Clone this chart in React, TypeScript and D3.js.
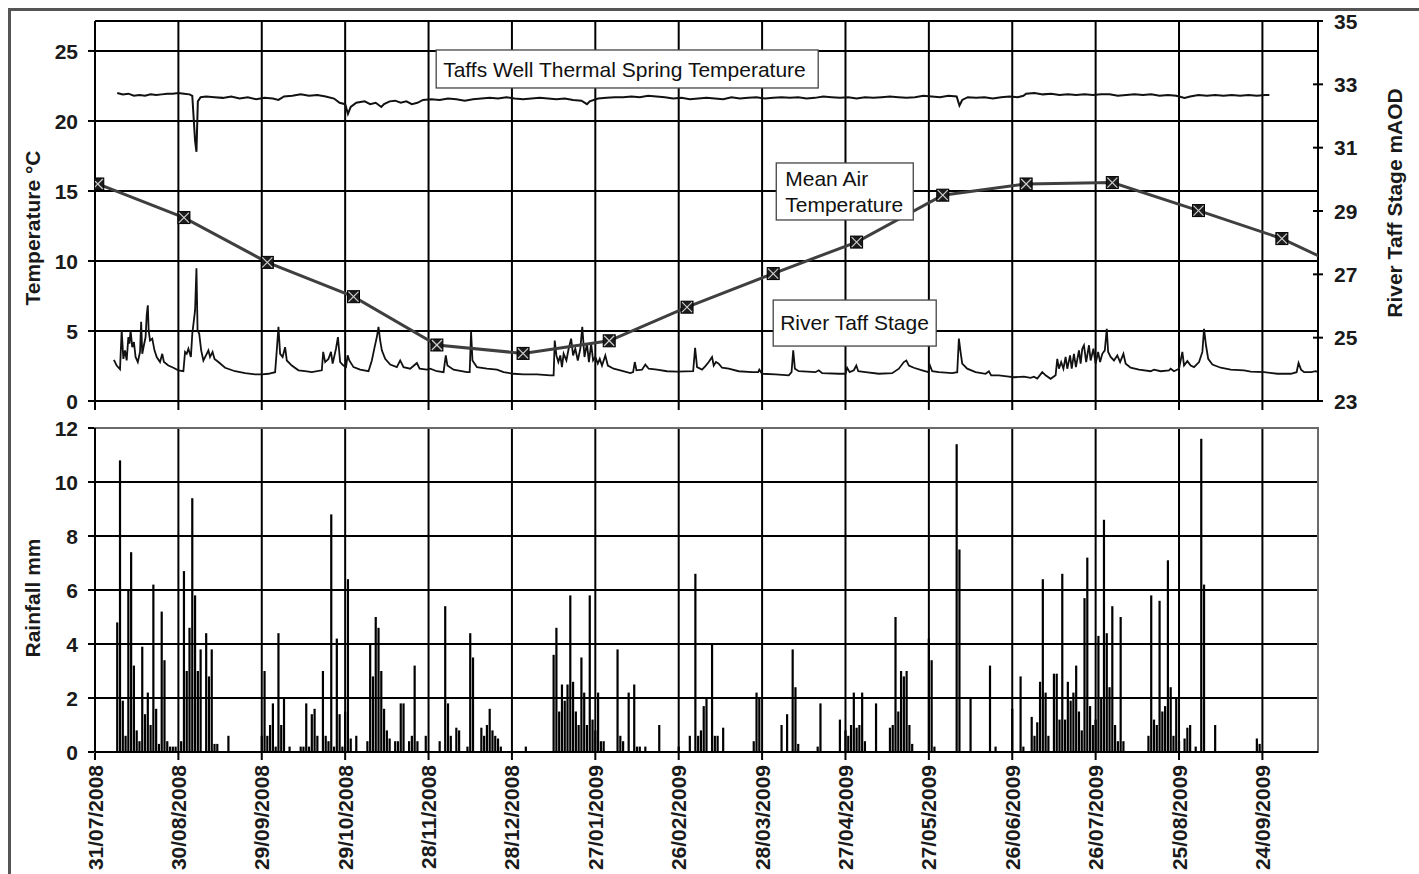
import React from "react";
import * as d3 from "d3";

// all series are keyed by day offset from 31/07/2008
const START = Date.UTC(2008, 6, 31);
const DAY_MS = 864e5;
const SPAN_DAYS = 440;

const dateTicks = [
  "31/07/2008", "30/08/2008", "29/09/2008", "29/10/2008", "28/11/2008",
  "28/12/2008", "27/01/2009", "26/02/2009", "28/03/2009", "27/04/2009",
  "27/05/2009", "26/06/2009", "26/07/2009", "25/08/2009", "24/09/2009",
];
const tempTicks = [0, 5, 10, 15, 20, 25];
const stageTicks = [23, 25, 27, 29, 31, 33, 35];
const rainTicks = [0, 2, 4, 6, 8, 10, 12];

// monthly mean air temperature (°C), 1st of each month
const airDays = [1, 32, 62, 93, 123, 154, 185, 213, 244, 274, 305, 335, 366, 397, 427, 458];
const airTemp = [15.5, 13.1, 9.9, 7.45, 4.0, 3.4, 4.3, 6.7, 9.1, 11.35, 14.7, 15.5, 15.6, 13.6, 11.6, 8.7];

// Taffs Well thermal spring temperature (°C)
const springTemp: [number, number][] = [
  [8, 22.0], [10, 21.9], [12, 21.95], [14, 21.8], [16, 21.85], [18, 21.8], [20, 21.9],
  [22, 21.85], [24, 21.9], [26, 21.95], [28, 21.95], [30, 22.0], [32, 21.95], [34, 21.9],
  [35, 21.8], [36, 18.6], [36.5, 17.8], [37, 21.4], [38, 21.7], [40, 21.75], [43, 21.7],
  [46, 21.65], [49, 21.75], [52, 21.6], [55, 21.7], [58, 21.55], [61, 21.65], [64, 21.6],
  [66, 21.5], [68, 21.75], [71, 21.8], [74, 21.9], [77, 21.8], [80, 21.85], [83, 21.75],
  [86, 21.6], [88, 21.3], [90, 21.2], [91, 20.5], [92, 21.0], [94, 21.3], [97, 21.4],
  [99, 21.2], [101, 21.3], [103, 21.0], [104, 21.2], [106, 21.4], [108, 21.45], [110, 21.3],
  [112, 21.4], [114, 21.2], [116, 21.3], [118, 21.5], [121, 21.55], [124, 21.5], [127, 21.6],
  [130, 21.55], [133, 21.45], [136, 21.55], [139, 21.6], [142, 21.65], [145, 21.6], [148, 21.7],
  [151, 21.6], [154, 21.55], [157, 21.6], [160, 21.65], [163, 21.6], [166, 21.55], [169, 21.6],
  [172, 21.5], [175, 21.45], [177, 21.2], [178, 21.4], [181, 21.6], [184, 21.65], [187, 21.7],
  [190, 21.7], [193, 21.75], [196, 21.7], [199, 21.8], [202, 21.75], [205, 21.7], [208, 21.6],
  [211, 21.65], [214, 21.55], [217, 21.6], [220, 21.65], [223, 21.6], [226, 21.55], [229, 21.7],
  [232, 21.6], [235, 21.65], [238, 21.7], [241, 21.6], [244, 21.65], [247, 21.7], [250, 21.65],
  [253, 21.7], [256, 21.6], [259, 21.65], [262, 21.75], [265, 21.7], [268, 21.65], [271, 21.7],
  [274, 21.6], [277, 21.7], [280, 21.65], [283, 21.7], [286, 21.75], [289, 21.7], [292, 21.65],
  [295, 21.7], [298, 21.8], [301, 21.75], [304, 21.7], [307, 21.8], [310, 21.75], [311, 21.1],
  [312, 21.5], [314, 21.7], [317, 21.65], [320, 21.7], [323, 21.6], [326, 21.7], [329, 21.75],
  [332, 21.7], [334, 21.8], [335, 21.95], [338, 22.0], [341, 21.9], [344, 21.95], [347, 21.85],
  [350, 21.9], [353, 21.85], [356, 21.9], [359, 21.85], [362, 21.9], [365, 21.9], [368, 21.8],
  [371, 21.85], [374, 21.9], [377, 21.85], [380, 21.9], [383, 21.8], [386, 21.85], [389, 21.8],
  [392, 21.65], [394, 21.75], [397, 21.85], [400, 21.8], [403, 21.85], [406, 21.8], [409, 21.85],
  [412, 21.8], [415, 21.85], [418, 21.8], [421, 21.85], [422.5, 21.85],
];

// River Taff stage (mAOD)
const riverStage: [number, number][] = [
  [6.8, 24.3], [7.8, 24.12], [9.0, 24.0], [9.6, 25.23], [10.2, 24.33], [10.8, 24.6], [11.4, 24.28],
  [12.0, 25.02], [12.4, 24.81], [12.8, 25.23], [13.4, 24.7], [14.0, 24.86], [14.6, 24.39],
  [15.4, 24.23], [16.2, 24.55], [16.6, 25.5], [17.0, 24.49], [17.6, 24.76], [18.2, 25.02],
  [18.6, 25.71], [19.0, 26.02], [19.3, 25.23], [19.8, 24.91], [20.6, 24.97], [21.4, 24.6],
  [22.2, 24.39], [23.4, 24.23], [24.2, 24.49], [24.8, 24.23], [26.4, 24.12], [28.2, 24.05],
  [30.0, 23.97], [31.8, 23.94], [32.4, 24.55], [33.0, 24.49], [33.6, 24.65], [34.5, 24.39],
  [35.0, 25.12], [36.0, 25.86], [36.5, 27.19], [36.9, 25.23], [37.5, 25.12], [38.2, 24.6],
  [39.0, 24.28], [40.2, 24.49], [40.8, 24.6], [41.4, 24.39], [42.3, 24.55], [43.0, 24.33],
  [44.4, 24.23], [46.8, 24.05], [50.4, 23.94], [54.0, 23.88], [57.6, 23.84], [60.0, 23.84],
  [62.4, 23.86], [64.8, 23.91], [65.4, 24.6], [66.0, 25.34], [66.6, 24.49], [67.5, 24.39],
  [68.4, 24.7], [69.0, 24.28], [70.8, 24.12], [73.2, 23.97], [75.6, 23.94], [78.0, 23.91],
  [81.6, 23.97], [82.1, 24.55], [82.8, 24.23], [84.0, 24.33], [84.9, 24.55], [85.5, 24.18],
  [86.7, 24.65], [87.4, 25.02], [88.2, 24.23], [89.4, 24.12], [90.3, 24.07], [90.9, 24.44],
  [91.5, 24.28], [93.0, 24.07], [95.4, 23.99], [98.4, 23.94], [99.6, 24.28], [100.6, 24.7],
  [101.4, 25.02], [102.0, 25.34], [102.6, 24.91], [103.2, 24.6], [104.4, 24.33], [106.2, 24.15],
  [108.6, 24.07], [109.8, 24.28], [111.0, 24.07], [113.4, 24.02], [115.8, 24.2], [116.8, 24.02],
  [119.4, 23.99], [120.6, 24.02], [123.0, 23.94], [125.4, 23.91], [126.2, 24.44], [126.8, 24.12],
  [129.0, 23.99], [133.8, 23.91], [134.8, 23.91], [135.3, 25.18], [135.8, 24.28], [137.4, 24.07],
  [141.0, 24.02], [144.6, 23.99], [147.0, 23.91], [150.6, 23.86], [154.2, 23.84], [159.0, 23.84],
  [163.8, 23.81], [165.0, 23.81], [165.4, 24.91], [166.0, 24.44], [166.7, 24.23], [167.4, 24.44],
  [168.0, 24.07], [168.6, 24.49], [169.6, 24.28], [170.4, 24.65], [171.3, 24.97], [172.0, 24.44],
  [172.8, 24.65], [173.7, 24.28], [174.6, 24.65], [175.3, 25.34], [176.1, 24.39], [177.0, 24.81],
  [177.7, 24.23], [178.5, 24.81], [179.2, 24.28], [180.0, 24.39], [180.9, 24.18], [181.6, 24.33],
  [182.4, 24.12], [183.6, 24.44], [184.5, 24.12], [186.6, 24.02], [189.0, 23.97], [192.6, 23.88],
  [193.6, 23.91], [194.2, 24.23], [194.8, 23.97], [196.8, 23.99], [198.0, 24.15], [199.2, 24.02],
  [202.2, 23.99], [205.8, 23.94], [209.4, 23.93], [215.2, 23.94], [215.9, 24.68], [216.6, 24.07],
  [218.4, 23.99], [219.6, 24.1], [220.8, 24.23], [222.0, 24.39], [222.6, 24.12], [223.4, 24.23],
  [224.4, 24.18], [225.6, 24.05], [228.0, 24.02], [231.6, 23.94], [236.4, 23.91], [238.6, 23.91],
  [239.0, 23.99], [240.0, 23.86], [244.8, 23.84], [249.6, 23.81], [250.6, 23.91], [251.2, 24.6],
  [251.8, 24.02], [253.2, 23.94], [259.2, 23.91], [260.4, 23.97], [261.6, 23.88], [267.6, 23.86],
  [270.0, 23.86], [270.6, 24.05], [271.5, 23.91], [273.0, 23.97], [273.9, 24.12], [274.6, 23.94],
  [277.2, 23.91], [282.0, 23.86], [286.8, 23.88], [289.2, 24.02], [291.0, 24.23], [291.9, 24.28],
  [292.8, 24.12], [294.6, 24.05], [297.6, 23.97], [299.8, 23.91], [300.4, 24.12], [301.2, 23.94],
  [303.6, 23.91], [308.4, 23.88], [310.2, 23.91], [310.8, 24.97], [311.4, 24.55], [312.0, 24.18],
  [313.8, 24.02], [316.8, 23.91], [320.4, 23.86], [321.6, 23.94], [322.4, 23.81], [325.2, 23.81],
  [328.8, 23.77], [330.6, 23.75], [334.2, 23.77], [336.6, 23.73], [337.8, 23.77], [339.0, 23.71],
  [340.8, 23.91], [342.0, 23.81], [343.8, 23.7], [345.6, 23.81], [346.2, 24.33], [346.8, 24.02],
  [347.6, 24.23], [348.4, 24.02], [349.2, 24.39], [349.8, 24.02], [350.8, 24.44], [351.4, 24.02],
  [352.2, 24.49], [352.9, 24.07], [354.0, 24.6], [354.6, 24.18], [355.2, 24.65], [355.8, 24.76],
  [356.6, 24.23], [357.6, 24.76], [358.2, 24.28], [359.2, 24.65], [360.0, 24.18], [360.9, 24.55],
  [361.6, 24.23], [362.4, 24.49], [363.3, 24.6], [364.0, 25.28], [364.5, 24.55], [365.4, 24.39],
  [366.6, 24.28], [367.8, 24.44], [368.8, 24.23], [370.0, 24.49], [370.8, 24.18], [372.6, 24.05],
  [375.6, 23.99], [379.8, 23.94], [381.0, 23.99], [383.4, 23.94], [386.4, 23.97], [387.0, 24.02],
  [388.2, 23.94], [390.0, 24.02], [391.2, 24.55], [391.8, 24.12], [393.0, 24.26], [394.2, 24.12],
  [395.4, 24.07], [397.2, 24.23], [398.4, 24.55], [399.0, 25.28], [399.7, 24.76], [400.5, 24.33],
  [402.0, 24.15], [405.0, 24.05], [408.6, 23.99], [413.4, 23.97], [415.8, 23.93], [420.6, 23.91],
  [425.4, 23.86], [430.2, 23.86], [432.3, 23.91], [433.0, 24.2], [433.9, 23.99], [435.0, 23.91],
  [437.5, 23.91], [439.2, 23.94], [440.0, 23.91],
];

// daily rainfall (mm), rain days only
const rainfall: [number, number][] = [
  [8, 4.8], [9, 10.8], [10, 1.9], [11, 0.6], [12, 6.0], [13, 7.4], [14, 3.2], [15, 0.8], [16, 0.4],
  [17, 3.9], [18, 1.4], [19, 2.2], [20, 1.0], [21, 6.2], [22, 1.6], [23, 0.3], [24, 5.2], [25, 3.4],
  [26, 0.4], [27, 0.2], [28, 0.2], [29, 0.2], [31, 0.4], [32, 6.7], [33, 3.0], [34, 4.6], [35, 9.4],
  [36, 5.8], [37, 3.0], [38, 3.8], [40, 4.4], [41, 2.8], [42, 3.8], [43, 0.3], [44, 0.3], [48, 0.6],
  [60, 0.6], [61, 3.0], [62, 0.6], [63, 1.0], [64, 1.8], [65, 0.2], [66, 4.4], [67, 1.0], [68, 2.0],
  [70, 0.2], [74, 0.2], [75, 0.2], [76, 1.8], [77, 0.2], [78, 1.4], [79, 1.6], [80, 0.6], [82, 3.0],
  [83, 0.6], [84, 0.4], [85, 8.8], [86, 0.2], [87, 4.2], [88, 1.4], [89, 0.2], [90, 1.5], [91, 6.4],
  [92, 0.5], [94, 0.6], [98, 0.4], [99, 4.0], [100, 2.8], [101, 5.0], [102, 4.6], [103, 3.0],
  [104, 1.6], [105, 0.8], [106, 0.5], [108, 0.4], [109, 0.4], [110, 1.8], [111, 1.8], [113, 0.4],
  [114, 0.6], [115, 3.2], [116, 0.4], [119, 0.6], [124, 0.4], [126, 5.4], [127, 1.8], [128, 0.6],
  [130, 0.9], [131, 0.8], [134, 0.2], [135, 4.4], [136, 3.5], [139, 0.9], [140, 0.6], [141, 1.0],
  [142, 1.6], [143, 0.8], [144, 0.6], [145, 0.5], [146, 0.2], [155, 0.2], [165, 3.6], [166, 4.6],
  [167, 1.5], [168, 2.5], [169, 1.9], [170, 2.5], [171, 5.8], [172, 2.6], [173, 1.5], [174, 1.0],
  [175, 3.5], [176, 2.2], [177, 1.0], [178, 5.8], [179, 1.2], [180, 0.8], [181, 2.2], [182, 0.4],
  [183, 0.4], [188, 3.8], [189, 0.6], [190, 0.4], [192, 2.2], [194, 2.5], [195, 0.2], [196, 0.2],
  [198, 0.2], [203, 1.0], [210, 0.2], [214, 0.6], [216, 6.6], [217, 0.6], [218, 0.8], [219, 1.7],
  [220, 2.0], [222, 4.0], [223, 0.6], [224, 0.6], [226, 0.9], [237, 0.4], [238, 2.2], [239, 2.0],
  [247, 1.0], [249, 1.4], [251, 3.8], [252, 2.4], [253, 0.3], [260, 0.2], [261, 1.8], [268, 1.2],
  [270, 0.8], [271, 0.6], [272, 1.0], [273, 2.2], [274, 0.9], [275, 1.0], [276, 2.2], [277, 0.4],
  [281, 1.8], [286, 0.9], [287, 1.0], [288, 5.0], [289, 1.5], [290, 3.0], [291, 2.8], [292, 3.0],
  [293, 1.0], [294, 0.3], [300, 4.2], [301, 3.4], [302, 0.2], [310, 11.4], [311, 7.5], [315, 2.0],
  [322, 3.2], [324, 0.2], [330, 1.6], [333, 2.8], [334, 0.2], [337, 1.3], [338, 0.6], [339, 1.1],
  [340, 2.6], [341, 6.4], [342, 2.2], [343, 0.6], [345, 2.9], [346, 2.9], [347, 1.2], [348, 6.6],
  [349, 1.2], [350, 2.6], [351, 1.9], [352, 2.2], [353, 3.2], [354, 1.5], [355, 0.8], [356, 5.7],
  [357, 7.2], [358, 1.7], [359, 1.0], [360, 1.2], [361, 4.3], [362, 2.0], [363, 8.6], [364, 4.4],
  [365, 2.4], [366, 5.4], [367, 1.0], [368, 0.4], [369, 5.0], [370, 0.4], [379, 0.6], [380, 5.8],
  [381, 1.2], [382, 1.0], [383, 5.6], [384, 1.5], [385, 1.7], [386, 7.1], [387, 2.4], [388, 0.6],
  [389, 2.0], [390, 0.4], [392, 0.5], [393, 0.9], [394, 1.0], [396, 0.2], [398, 11.6], [399, 6.2],
  [403, 1.0], [418, 0.5], [419, 0.3],
];

const FONT = "'Liberation Sans', Arial, Helvetica, sans-serif";

export default function App() {
  const W = 1419;
  const H = 874;
  const left = 95;
  const right = 1318;
  const top1 = 21;
  const bot1 = 401;
  const top2 = 428;
  const bot2 = 752;

  const day = (d: number) => new Date(START + d * DAY_MS);
  const parse = d3.utcParse("%d/%m/%Y");

  const x = d3
    .scaleUtc()
    .domain([day(0), day(SPAN_DAYS)])
    .range([left, right]);
  const yTemp = d3.scaleLinear().domain([0, 27.14]).range([bot1, top1]);
  const yStage = d3.scaleLinear().domain([23, 35]).range([bot1, top1]);
  const yRain = d3.scaleLinear().domain([0, 12]).range([bot2, top2]);

  const tickDates = dateTicks.map((s) => parse(s) as Date);

  const springLine = d3
    .line<[number, number]>()
    .x((d) => x(day(d[0])))
    .y((d) => yTemp(d[1]));
  const stageLine = d3
    .line<[number, number]>()
    .x((d) => x(day(d[0])))
    .y((d) => yStage(d[1]));
  const airPts = airDays.map((d, i) => [d, airTemp[i]] as [number, number]);
  const airLine = d3
    .line<[number, number]>()
    .x((d) => x(day(d[0])))
    .y((d) => yTemp(d[1]));

  const barW = 2.2;
  const grid = { stroke: "#000", strokeWidth: 2 };
  const tickText = { fontFamily: FONT, fontSize: 21, fontWeight: 700, fill: "#1a1a1a" };
  const noteText = { fontFamily: FONT, fontSize: 21, fill: "#111" };

  // annotation boxes, anchored in (day, °C)
  const notes = [
    { d: 122.75, t: 25.07, w: 382, h: 38, lines: ["Taffs Well Thermal Spring Temperature"], dx: 7, dy: [27] },
    { d: 245.1, t: 17.0, w: 137, h: 57, lines: ["Mean Air", "Temperature"], dx: 9, dy: [23, 49] },
    { d: 244.0, t: 7.21, w: 163, h: 46, lines: ["River Taff Stage"], dx: 7, dy: [30] },
  ];

  const title = { fontFamily: FONT, fontSize: 21, fontWeight: 700, fill: "#1a1a1a" };

  return (
    <svg
      width={W}
      height={H}
      style={{ position: "absolute", left: 0, top: 0, background: "#fff" }}
    >
      <defs>
        <clipPath id="topClip">
          <rect x={left} y={top1} width={right - left} height={bot1 - top1} />
        </clipPath>
      </defs>

      {/* outer frame */}
      <rect x={9.5} y={9.5} width={1440} height={900} fill="none" stroke="#555" strokeWidth={3} />

      {/* ---------- upper panel ---------- */}
      {tempTicks.map((t) => (
        <g key={"tg" + t}>
          <line x1={left} x2={right} y1={yTemp(t)} y2={yTemp(t)} {...grid} />
          <line x1={left - 7} x2={left} y1={yTemp(t)} y2={yTemp(t)} {...grid} />
          <text x={78} y={yTemp(t)} dy="0.36em" textAnchor="end" {...tickText}>
            {t}
          </text>
        </g>
      ))}
      <line x1={left} x2={right} y1={top1} y2={top1} {...grid} />
      {tickDates.map((d, i) => (
        <line key={"vg1" + i} x1={x(d)} x2={x(d)} y1={top1} y2={bot1 + 9} {...grid} />
      ))}
      {/* right axis */}
      <line x1={right} x2={right} y1={top1} y2={bot1} {...grid} />
      {stageTicks.map((s) => (
        <g key={"st" + s}>
          <line x1={right - 5} x2={right + 5} y1={yStage(s)} y2={yStage(s)} {...grid} />
          <text x={1334} y={yStage(s)} dy="0.36em" textAnchor="start" {...tickText}>
            {s}
          </text>
        </g>
      ))}

      <g clipPath="url(#topClip)">
        <path d={springLine(springTemp) || ""} fill="none" stroke="#111" strokeWidth={2} />
        <path d={stageLine(riverStage) || ""} fill="none" stroke="#111" strokeWidth={1.8} />
        <path d={airLine(airPts) || ""} fill="none" stroke="#3f3f3f" strokeWidth={3} />
        {airPts.map((p, i) => {
          const cx = x(day(p[0]));
          const cy = yTemp(p[1]);
          const s = 6;
          return (
            <g key={"m" + i}>
              <rect x={cx - s} y={cy - s} width={2 * s} height={2 * s} fill="#1c1c1c" stroke="#000" strokeWidth={1} />
              <line x1={cx - s + 1} y1={cy - s + 1} x2={cx + s - 1} y2={cy + s - 1} stroke="#cfcfcf" strokeWidth={1.2} />
              <line x1={cx - s + 1} y1={cy + s - 1} x2={cx + s - 1} y2={cy - s + 1} stroke="#cfcfcf" strokeWidth={1.2} />
            </g>
          );
        })}
      </g>

      {notes.map((n, i) => {
        const bx = x(day(n.d));
        const by = yTemp(n.t);
        return (
          <g key={"n" + i}>
            <rect x={bx} y={by} width={n.w} height={n.h} fill="#fff" stroke="#444" strokeWidth={1.3} />
            {n.lines.map((l, j) => (
              <text key={j} x={bx + n.dx} y={by + n.dy[j]} {...noteText}>
                {l}
              </text>
            ))}
          </g>
        );
      })}

      {/* axis titles, upper */}
      <text transform={`translate(40,228) rotate(-90)`} textAnchor="middle" {...title}>
        Temperature °C
      </text>
      <text transform={`translate(1402,203) rotate(-90)`} textAnchor="middle" {...title}>
        River Taff Stage mAOD
      </text>

      {/* ---------- lower panel ---------- */}
      {rainTicks.map((t) => (
        <g key={"rg" + t}>
          {t < 12 && <line x1={left} x2={right} y1={yRain(t)} y2={yRain(t)} {...grid} />}
          <line x1={left - 7} x2={left} y1={yRain(t)} y2={yRain(t)} {...grid} />
          <text x={78} y={yRain(t)} dy="0.36em" textAnchor="end" {...tickText}>
            {t}
          </text>
        </g>
      ))}
      {tickDates.map((d, i) => (
        <line key={"vg2" + i} x1={x(d)} x2={x(d)} y1={top2} y2={bot2 + 8} {...grid} />
      ))}
      <rect x={left} y={top2} width={right - left} height={bot2 - top2} fill="none" stroke="#6a6a6a" strokeWidth={2} />
      <line x1={left} x2={right} y1={bot2} y2={bot2} {...grid} />
      <line x1={left} x2={left} y1={top2} y2={bot2} {...grid} />

      {rainfall.map(([d, v], i) => (
        <rect
          key={"r" + i}
          x={x(day(d)) - barW / 2}
          y={yRain(v)}
          width={barW}
          height={bot2 - yRain(v)}
          fill="#000"
        />
      ))}

      <text transform={`translate(40,598) rotate(-90)`} textAnchor="middle" {...title}>
        Rainfall mm
      </text>

      {tickDates.map((d, i) => (
        <text
          key={"xl" + i}
          transform={`translate(${x(d)},765) rotate(-90)`}
          textAnchor="end"
          dy="0.36em"
          {...tickText}
        >
          {dateTicks[i]}
        </text>
      ))}
    </svg>
  );
}
